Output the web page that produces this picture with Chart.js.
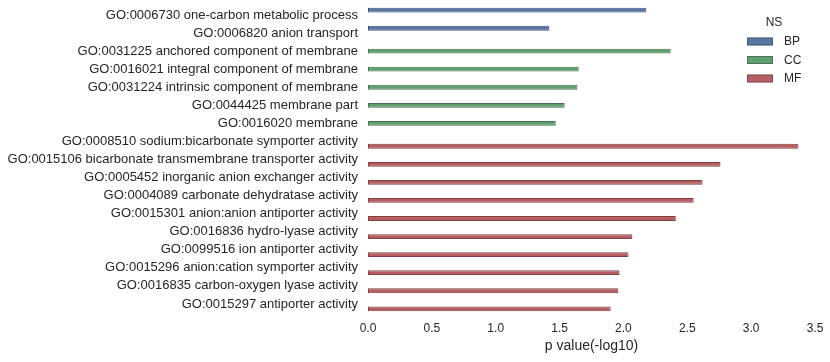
<!DOCTYPE html>
<html>
<head>
<meta charset="utf-8">
<script src="https://cdn.jsdelivr.net/npm/chart.js@4"></script>
<style>
  body { margin: 0; background: #fff; }
  #wrap { width: 830px; height: 362px; }
</style>
</head>
<body>
<div id="wrap"><canvas id="goChart"></canvas></div>
<script>
const terms = [
  "GO:0006730 one-carbon metabolic process",
  "GO:0006820 anion transport",
  "GO:0031225 anchored component of membrane",
  "GO:0016021 integral component of membrane",
  "GO:0031224 intrinsic component of membrane",
  "GO:0044425 membrane part",
  "GO:0016020 membrane",
  "GO:0008510 sodium:bicarbonate symporter activity",
  "GO:0015106 bicarbonate transmembrane transporter activity",
  "GO:0005452 inorganic anion exchanger activity",
  "GO:0004089 carbonate dehydratase activity",
  "GO:0015301 anion:anion antiporter activity",
  "GO:0016836 hydro-lyase activity",
  "GO:0099516 ion antiporter activity",
  "GO:0015296 anion:cation symporter activity",
  "GO:0016835 carbon-oxygen lyase activity",
  "GO:0015297 antiporter activity"
];
const namespaces = ["BP", "BP", "CC", "CC", "CC", "CC", "CC",
  "MF", "MF", "MF", "MF", "MF", "MF", "MF", "MF", "MF", "MF"];
const pValues = [2.18, 1.42, 2.37, 1.65, 1.64, 1.54, 1.47,
  3.37, 2.76, 2.62, 2.55, 2.41, 2.07, 2.04, 1.97, 1.96, 1.90];

const groups = ["BP", "CC", "MF"];
const groupColors = ["#5975a4", "#5f9e6e", "#b55d60"];
const groupEdges = ["#3f5478", "#43734f", "#843f42"];
const xTicks = [0, 0.5, 1, 1.5, 2, 2.5, 3, 3.5];

const textColor = "#262626";

// legend drawn inside the plot, top right, like the seaborn one
const nsLegend = {
  id: "nsLegend",
  afterDraw(chart) {
    const ctx = chart.ctx;
    ctx.save();
    ctx.fillStyle = textColor;
    ctx.font = "12px 'Liberation Sans', Arial, sans-serif";
    ctx.textAlign = "center";
    ctx.textBaseline = "middle";
    ctx.fillText("NS", 774, 23);
    chart.data.datasets.forEach((ds, i) => {
      const y = 41.5 + i * 18.5;
      ctx.fillStyle = ds.backgroundColor;
      ctx.fillRect(747, y - 4, 26, 8);
      ctx.strokeStyle = "rgba(60,60,60,0.45)";
      ctx.lineWidth = 1;
      ctx.strokeRect(747.5, y - 3.5, 25, 7);
      ctx.fillStyle = textColor;
      ctx.textAlign = "left";
      ctx.fillText(ds.label, 784, y + 0.5);
    });
    ctx.restore();
  }
};

const datasets = groups.map((g, i) => ({
  label: g,
  data: pValues.map((v, k) => (namespaces[k] === g ? v : null)),
  backgroundColor: groupColors[i],
  borderColor: groupEdges[i],
  borderWidth: 1,
  borderSkipped: false,
  categoryPercentage: 0.8,
  barPercentage: 1.0
}));

new Chart(document.getElementById("goChart"), {
  type: "bar",
  data: { labels: terms, datasets: datasets },
  options: {
    indexAxis: "y",
    responsive: true,
    maintainAspectRatio: false,
    animation: false,
    layout: { padding: { top: 6, right: 15, left: 0, bottom: 0 } },
    plugins: {
      legend: { display: false },
      tooltip: { enabled: false }
    },
    scales: {
      x: {
        type: "linear",
        min: 0,
        max: 3.5,
        afterBuildTicks: (scale) => { scale.ticks = xTicks.map(v => ({ value: v })); },
        afterFit: (scale) => {
          scale.height = 49;
          scale.paddingLeft = 0;
          scale.paddingRight = 0;
        },
        grid: { display: false, drawTicks: false },
        border: { display: false },
        ticks: {
          padding: 8,
          color: textColor,
          font: { family: "'Liberation Sans', Arial, sans-serif", size: 12 },
          callback: (v) => Number(v).toFixed(1)
        },
        title: {
          display: true,
          text: "p value(-log10)",
          color: textColor,
          font: { family: "'Liberation Sans', Arial, sans-serif", size: 14 },
          padding: { top: 0, bottom: 7 }
        }
      },
      y: {
        afterFit: (scale) => {
          scale.width = 368;
          scale.paddingTop = 0;
          scale.paddingBottom = 0;
        },
        grid: { display: false, drawTicks: false },
        border: { display: false },
        ticks: {
          autoSkip: false,
          padding: 10,
          color: textColor,
          font: { family: "'Liberation Sans', Arial, sans-serif", size: 13 }
        }
      }
    }
  },
  plugins: [nsLegend]
});
</script>
</body>
</html>
